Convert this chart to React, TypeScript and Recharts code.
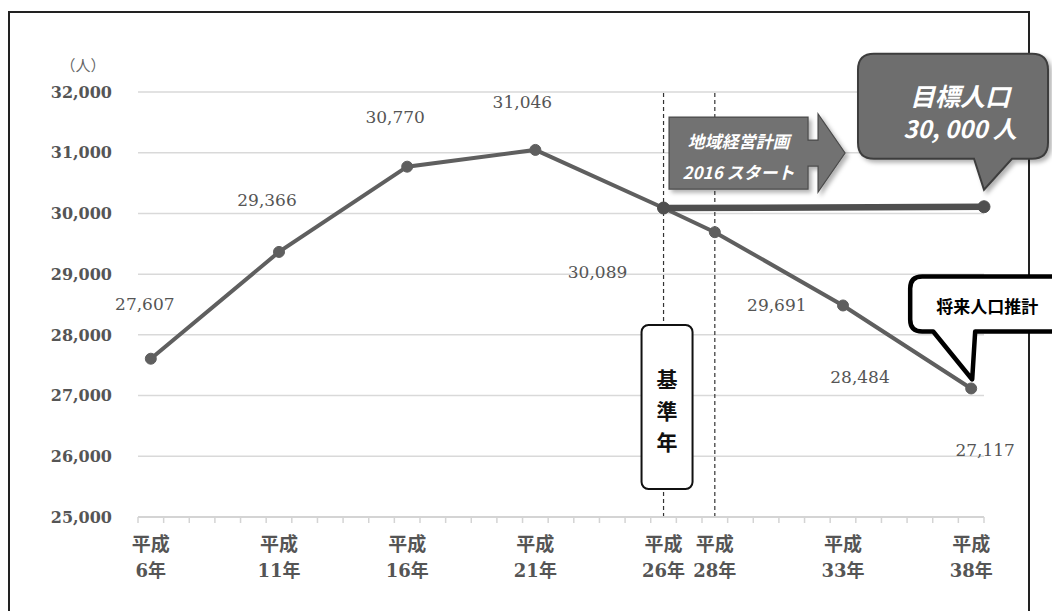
import React from 'react';
import {
  LineChart,
  Line,
  XAxis,
  YAxis,
  CartesianGrid,
  ReferenceLine,
  ReferenceDot,
  LabelList,
} from 'recharts';

// 人口の推移（平成年）
const years = [6, 11, 16, 21, 26, 28, 33, 38];
const population = [27607, 29366, 30770, 31046, 30089, 29691, 28484, 27117];
const yearLabels = ['6年', '11年', '16年', '21年', '26年', '28年', '33年', '38年'];

// 目標人口ライン（基準年から平成38年まで）
const targetYears = [26, 38.5];
const targetValues = [30089, 30110];

const yTicks = [25000, 26000, 27000, 28000, 29000, 30000, 31000, 32000];
const baseYears = [26, 28];

// label offsets from each point, as placed in the original
const labelOffsets = [
  [-6, -55],
  [-12, -52],
  [-12, -50],
  [-13, -48],
  [-66, 64],
  [62, 73],
  [17, 72],
  [14, 62],
];

const mainData = years.map((year, i) => ({ year, value: population[i] }));
const targetData = targetYears.map((year, i) => ({ year, value: targetValues[i] }));

// minor tick marks sit half a year off the data years
const minorTicks = Array.from({ length: 34 }, (_, i) => 5.5 + i);
const allTicks = [...minorTicks, ...years].sort((a, b) => a - b);

const GRAY = '#5f5f5f';
const TEXT_GRAY = '#555';
const SERIF = "'DejaVu Serif', serif";
const JP = "'Noto Sans CJK JP', sans-serif";

const XTick = (props: any) => {
  const { x, y, payload } = props;
  const idx = years.indexOf(payload.value);
  if (idx < 0) {
    return <line x1={x} y1={y} x2={x} y2={y + 6} stroke="#d4d4d4" strokeWidth={1.5} />;
  }
  return (
    <g>
      <text x={x} y={y + 34} textAnchor="middle" fontFamily={JP} fontWeight={700} fontSize={19} fill={TEXT_GRAY}>
        平成
      </text>
      <text x={x} y={y + 60} textAnchor="middle" fontFamily={SERIF + ', ' + JP} fontWeight={700} fontSize={18} fill={TEXT_GRAY}>
        {yearLabels[idx]}
      </text>
    </g>
  );
};

const renderValueLabel = (props: any) => {
  const { x, y, value } = props;
  const idx = population.indexOf(value);
  const [dx, dy] = labelOffsets[idx] || [0, -20];
  return (
    <text x={x + dx} y={y + dy} textAnchor="middle" dominantBaseline="central" fontFamily={SERIF} fontSize={17} fill={TEXT_GRAY}>
      {value.toLocaleString('en-US')}
    </text>
  );
};

const Shadow = ({ id }: { id: string }) => (
  <defs>
    <filter id={id} x="-20%" y="-20%" width="140%" height="140%">
      <feDropShadow dx="3" dy="3" stdDeviation="2" floodColor="#000" floodOpacity="0.3" />
    </filter>
  </defs>
);

// 目標人口の吹き出し（先端がライン終点）
const TargetCallout = (props: any) => {
  const { cx, cy } = props;
  const l = cx - 126, r = cx + 64, t = cy - 153, b = cy - 48, rr = 16;
  const d = `M${l + rr},${t} H${r - rr} Q${r},${t} ${r},${t + rr} V${b - rr} Q${r},${b} ${r - rr},${b}
    H${cx + 28} L${cx},${cy - 17} L${cx - 10},${b} H${l + rr} Q${l},${b} ${l},${b - rr} V${t + rr} Q${l},${t} ${l + rr},${t} Z`;
  return (
    <g>
      <Shadow id="shTarget" />
      <path d={d} fill="#6e6e6e" stroke="#3e3e3e" strokeWidth={2} filter="url(#shTarget)" />
      <text x={cx - 24} y={cy - 112} textAnchor="middle" dominantBaseline="central" fontFamily={JP} fontStyle="italic" fontWeight={700} fontSize={25} fill="#fff">
        目標人口
      </text>
      <text x={cx - 24} y={cy - 79} textAnchor="middle" dominantBaseline="central" fontFamily={JP} fontStyle="italic" fontWeight={700} fontSize={24} fill="#fff">
        30, 000 人
      </text>
    </g>
  );
};

// 地域経営計画の矢印
const PlanArrow = (props: any) => {
  const { cx, cy } = props;
  const pts = [
    [5.5, -91], [144.5, -91], [144.5, -68], [154.5, -68], [154.5, -94], [181.5, -55],
    [154.5, -16], [154.5, -42], [144.5, -42], [144.5, -19], [5.5, -19],
  ]
    .map(([dx, dy]) => `${cx + dx},${cy + dy}`)
    .join(' ');
  return (
    <g>
      <Shadow id="shArrow" />
      <polygon points={pts} fill="#727272" stroke="#4a4a4a" strokeWidth={1.2} filter="url(#shArrow)" />
      <text x={cx + 75} y={cy - 68} textAnchor="middle" dominantBaseline="central" fontFamily={JP} fontStyle="italic" fontWeight={700} fontSize={17} fill="#fff">
        地域経営計画
      </text>
      <text x={cx + 75} y={cy - 37} textAnchor="middle" dominantBaseline="central" fontFamily={JP} fontStyle="italic" fontWeight={700} fontSize={17} fill="#fff">
        2016 スタート
      </text>
    </g>
  );
};

// 基準年の縦書きボックス
const BaseYearBox = (props: any) => {
  const { cx, cy } = props;
  const chars = ['基', '準', '年'];
  return (
    <g>
      <rect x={cx - 22} y={cy - 192} width={51} height={164} rx={7} fill="#fff" stroke="#111" strokeWidth={2} />
      {chars.map((c, i) => (
        <text key={c} x={cx + 3.5} y={cy - 139 + i * 31.5} textAnchor="middle" dominantBaseline="central" fontFamily={JP} fontWeight={700} fontSize={21} fill="#111">
          {c}
        </text>
      ))}
    </g>
  );
};

// 将来人口推計の吹き出し（先端が平成38年の点）
const FutureCallout = (props: any) => {
  const { cx, cy } = props;
  const l = cx - 61, r = cx + 95, t = cy - 112, b = cy - 57, rr = 12;
  const d = `M${l + rr},${t} H${r - rr} Q${r},${t} ${r},${t + rr} V${b - rr} Q${r},${b} ${r - rr},${b}
    H${cx + 4} L${cx + 1},${cy - 9} L${cx - 38},${b} H${l + rr} Q${l},${b} ${l},${b - rr} V${t + rr} Q${l},${t} ${l + rr},${t} Z`;
  return (
    <g>
      <path d={d} fill="#fff" stroke="#000" strokeWidth={4.5} strokeLinejoin="round" />
      <text x={cx + 16} y={cy - 83} textAnchor="middle" dominantBaseline="central" fontFamily={JP} fontWeight={700} fontSize={17} fill="#000">
        将来人口推計
      </text>
    </g>
  );
};

const UnitLabel = (props: any) => {
  const { viewBox } = props;
  return (
    <text x={viewBox.x + viewBox.width - 55} y={viewBox.y - 28} textAnchor="middle" dominantBaseline="central" fontFamily={JP} fontSize={15} fill="#666">
      （人）
    </text>
  );
};

export default function App() {
  return (
    <div style={{ position: 'absolute', left: 0, top: 0, width: 1052, height: 611, overflow: 'hidden', background: '#fff' }}>
      <div
        style={{
          position: 'absolute',
          left: 8,
          top: 11,
          width: 1022,
          height: 700,
          border: '2px solid #222',
          boxSizing: 'border-box',
        }}
      />
      <div style={{ position: 'absolute', left: 0, top: 0 }}>
        <LineChart width={1052} height={611} margin={{ top: 92, right: 68, bottom: 0, left: 0 }}>
          <CartesianGrid vertical={false} stroke="#d9d9d9" strokeWidth={1.5} />
          <XAxis
            dataKey="year"
            type="number"
            domain={[5.5, 38.5]}
            ticks={allTicks}
            interval={0}
            height={94}
            tickLine={false}
            tickSize={0}
            tickMargin={0}
            axisLine={{ stroke: '#d4d4d4', strokeWidth: 2 }}
            tick={<XTick />}
            allowDecimals
          />
          <YAxis
            type="number"
            domain={[25000, 32000]}
            ticks={yTicks}
            width={138}
            axisLine={false}
            tickLine={false}
            tickSize={0}
            tickMargin={26}
            tickFormatter={(v: number) => v.toLocaleString('en-US')}
            tick={{ fontFamily: SERIF, fontWeight: 700, fontSize: 16, fill: TEXT_GRAY }}
            label={<UnitLabel />}
          />
          {baseYears.map((y) => (
            <ReferenceLine key={y} x={y} stroke="#333" strokeWidth={1.2} strokeDasharray="4 3" />
          ))}
          <Line
            data={mainData}
            dataKey="value"
            stroke={GRAY}
            strokeWidth={4}
            dot={{ r: 5.5, fill: GRAY, stroke: GRAY, strokeWidth: 1 }}
            activeDot={false}
            isAnimationActive={false}
          >
            <LabelList dataKey="value" content={renderValueLabel} />
          </Line>
          <Line
            data={targetData}
            dataKey="value"
            stroke="#4f4f4f"
            strokeWidth={6.5}
            dot={{ r: 6, fill: '#4f4f4f', stroke: '#4f4f4f', strokeWidth: 1 }}
            activeDot={false}
            isAnimationActive={false}
          />
          <ReferenceDot x={26} y={25000} r={1} shape={(p: any) => <BaseYearBox {...p} />} ifOverflow="visible" />
          <ReferenceDot x={targetYears[0]} y={targetValues[0]} r={1} shape={(p: any) => <PlanArrow {...p} />} ifOverflow="visible" />
          <ReferenceDot x={targetYears[1]} y={targetValues[1]} r={1} shape={(p: any) => <TargetCallout {...p} />} ifOverflow="visible" />
          <ReferenceDot x={38} y={27117} r={1} shape={(p: any) => <FutureCallout {...p} />} ifOverflow="visible" />
        </LineChart>
      </div>
    </div>
  );
}
